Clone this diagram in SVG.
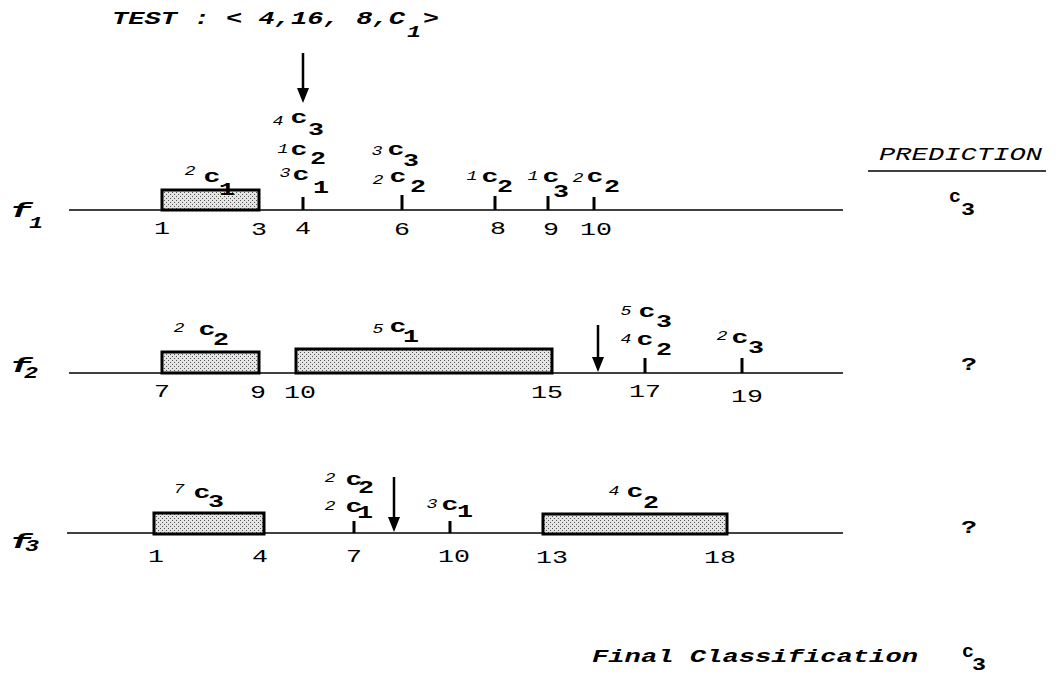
<svg xmlns="http://www.w3.org/2000/svg" width="1059" height="673" viewBox="0 0 1059 673">
<style>
text{font-family:"Liberation Mono","Courier New",monospace;fill:#000}
.num{font-size:18px;text-anchor:middle}
.sm{font-size:12px;font-style:italic;text-anchor:middle}
.c{font-size:19px;font-weight:bold;text-anchor:middle}
.sub{font-size:18px;font-weight:bold;text-anchor:middle}
.bi{font-size:18px;font-weight:bold;font-style:italic}
.fl{font-size:20px;font-weight:bold;font-style:italic;text-anchor:middle}
.fs{font-size:17px;font-weight:bold;font-style:italic;text-anchor:middle}
.axis{stroke:#000;stroke-width:1.5}
.tick{stroke:#000;stroke-width:3}
.box{fill:url(#dots);stroke:#000;stroke-width:3}
.arr{stroke:#000;stroke-width:2.5;marker-end:url(#ah)}
</style>
<defs>
<pattern id="dots" width="4" height="4" patternUnits="userSpaceOnUse">
<rect width="4" height="4" fill="#e4e4e4"/>
<rect x="0" y="0" width="1" height="1" fill="#555"/>
<rect x="2" y="2" width="1" height="1" fill="#555"/>
</pattern>
<marker id="ah" markerUnits="userSpaceOnUse" markerWidth="15" markerHeight="12" refX="3" refY="6" orient="auto" viewBox="0 0 15 12">
<path d="M0,0 L15,6 L0,12 z" fill="#000"/>
</marker>
</defs>

<rect width="1059" height="673" fill="#fff"/>

<g id="header">
<text class="bi" x="112" y="24" textLength="293" lengthAdjust="spacingAndGlyphs">TEST : &lt; 4,16, 8,C</text>
<text class="fs" x="414" y="37" textLength="14" lengthAdjust="spacingAndGlyphs" font-style="normal">1</text>
<text class="bi" x="423" y="24" textLength="16" lengthAdjust="spacingAndGlyphs">&gt;</text>
</g>

<g id="prediction-header">
<text x="879" y="160" font-size="18" font-style="italic" textLength="163" lengthAdjust="spacingAndGlyphs">PREDICTION</text>
<line x1="868" y1="171" x2="1046" y2="171" stroke="#000" stroke-width="1.5"/>
</g>

<g id="connectors">
<line class="arr" x1="303" y1="53" x2="303" y2="91"/>
<line class="arr" x1="598" y1="325" x2="598" y2="360"/>
<line class="arr" x1="394" y1="477" x2="394" y2="520"/>
</g>

<g id="f1">
<text class="fl" x="21" y="217" textLength="22" lengthAdjust="spacingAndGlyphs">f</text>
<text class="fs" x="36" y="228" textLength="14" lengthAdjust="spacingAndGlyphs">1</text>
<line class="axis" x1="69" y1="210" x2="843" y2="210"/>
<rect class="box" x="162" y="190" width="97" height="20"/>
<line class="tick" x1="303" y1="197" x2="303" y2="210"/>
<line class="tick" x1="402" y1="195" x2="402" y2="210"/>
<line class="tick" x1="495" y1="196" x2="495" y2="210"/>
<line class="tick" x1="548" y1="196" x2="548" y2="210"/>
<line class="tick" x1="594" y1="197" x2="594" y2="210"/>
<text class="num" x="162" y="234" textLength="16" lengthAdjust="spacingAndGlyphs">1</text>
<text class="num" x="259" y="235" textLength="16" lengthAdjust="spacingAndGlyphs">3</text>
<text class="num" x="303" y="234" textLength="16" lengthAdjust="spacingAndGlyphs">4</text>
<text class="num" x="402" y="235" textLength="16" lengthAdjust="spacingAndGlyphs">6</text>
<text class="num" x="498" y="234" textLength="16" lengthAdjust="spacingAndGlyphs">8</text>
<text class="num" x="551" y="235" textLength="16" lengthAdjust="spacingAndGlyphs">9</text>
<text class="num" x="596" y="235" textLength="32" lengthAdjust="spacingAndGlyphs">10</text>
<!-- labels -->
<text class="sm" x="190" y="175" textLength="11" lengthAdjust="spacingAndGlyphs">2</text>
<text class="c" x="212" y="182" textLength="17" lengthAdjust="spacingAndGlyphs">c</text>
<text class="sub" x="227" y="195" textLength="16" lengthAdjust="spacingAndGlyphs">1</text>

<text class="sm" x="278" y="125" textLength="11" lengthAdjust="spacingAndGlyphs">4</text>
<text class="c" x="299" y="123" textLength="17" lengthAdjust="spacingAndGlyphs">c</text>
<text class="sub" x="316" y="135" textLength="16" lengthAdjust="spacingAndGlyphs">3</text>
<text class="sm" x="283" y="153" textLength="11" lengthAdjust="spacingAndGlyphs">1</text>
<text class="c" x="299" y="155" textLength="17" lengthAdjust="spacingAndGlyphs">c</text>
<text class="sub" x="318" y="164" textLength="16" lengthAdjust="spacingAndGlyphs">2</text>
<text class="sm" x="285" y="177" textLength="11" lengthAdjust="spacingAndGlyphs">3</text>
<text class="c" x="301" y="180" textLength="17" lengthAdjust="spacingAndGlyphs">c</text>
<text class="sub" x="321" y="193" textLength="16" lengthAdjust="spacingAndGlyphs">1</text>

<text class="sm" x="377" y="155" textLength="11" lengthAdjust="spacingAndGlyphs">3</text>
<text class="c" x="396" y="155" textLength="17" lengthAdjust="spacingAndGlyphs">c</text>
<text class="sub" x="411" y="166" textLength="16" lengthAdjust="spacingAndGlyphs">3</text>
<text class="sm" x="378" y="184" textLength="11" lengthAdjust="spacingAndGlyphs">2</text>
<text class="c" x="398" y="182" textLength="17" lengthAdjust="spacingAndGlyphs">c</text>
<text class="sub" x="418" y="192" textLength="16" lengthAdjust="spacingAndGlyphs">2</text>

<text class="sm" x="472" y="180" textLength="11" lengthAdjust="spacingAndGlyphs">1</text>
<text class="c" x="490" y="182" textLength="17" lengthAdjust="spacingAndGlyphs">c</text>
<text class="sub" x="505" y="192" textLength="16" lengthAdjust="spacingAndGlyphs">2</text>

<text class="sm" x="533" y="180" textLength="11" lengthAdjust="spacingAndGlyphs">1</text>
<text class="c" x="551" y="182" textLength="17" lengthAdjust="spacingAndGlyphs">c</text>
<text class="sub" x="561" y="197" textLength="16" lengthAdjust="spacingAndGlyphs">3</text>

<text class="sm" x="578" y="182" textLength="11" lengthAdjust="spacingAndGlyphs">2</text>
<text class="c" x="595" y="182" textLength="17" lengthAdjust="spacingAndGlyphs">c</text>
<text class="sub" x="612" y="192" textLength="16" lengthAdjust="spacingAndGlyphs">2</text>
</g>

<g id="f1-prediction">
<text class="c" x="955" y="202" font-size="13" textLength="12" lengthAdjust="spacingAndGlyphs">c</text>
<text class="sub" x="968" y="215" textLength="14" lengthAdjust="spacingAndGlyphs">3</text>
</g>

<g id="f2">
<text class="fl" x="21" y="372" textLength="22" lengthAdjust="spacingAndGlyphs">f</text>
<text class="fs" x="31" y="378" textLength="14" lengthAdjust="spacingAndGlyphs">2</text>
<line class="axis" x1="69" y1="373" x2="843" y2="373"/>
<rect class="box" x="162" y="352" width="97" height="21"/>
<rect class="box" x="296" y="349" width="256" height="24"/>
<line class="tick" x1="645" y1="358" x2="645" y2="373"/>
<line class="tick" x1="742" y1="358" x2="742" y2="373"/>
<text class="num" x="162" y="397" textLength="16" lengthAdjust="spacingAndGlyphs">7</text>
<text class="num" x="258" y="398" textLength="16" lengthAdjust="spacingAndGlyphs">9</text>
<text class="num" x="300" y="398" textLength="32" lengthAdjust="spacingAndGlyphs">10</text>
<text class="num" x="547" y="398" textLength="32" lengthAdjust="spacingAndGlyphs">15</text>
<text class="num" x="645" y="397" textLength="32" lengthAdjust="spacingAndGlyphs">17</text>
<text class="num" x="747" y="402" textLength="32" lengthAdjust="spacingAndGlyphs">19</text>

<text class="sm" x="179" y="332" textLength="11" lengthAdjust="spacingAndGlyphs">2</text>
<text class="c" x="207" y="335" textLength="17" lengthAdjust="spacingAndGlyphs">c</text>
<text class="sub" x="221" y="345" textLength="16" lengthAdjust="spacingAndGlyphs">2</text>

<text class="sm" x="378" y="333" textLength="11" lengthAdjust="spacingAndGlyphs">5</text>
<text class="c" x="398" y="332" textLength="17" lengthAdjust="spacingAndGlyphs">c</text>
<text class="sub" x="411" y="342" textLength="16" lengthAdjust="spacingAndGlyphs">1</text>

<text class="sm" x="626" y="315" textLength="11" lengthAdjust="spacingAndGlyphs">5</text>
<text class="c" x="647" y="317" textLength="17" lengthAdjust="spacingAndGlyphs">c</text>
<text class="sub" x="664" y="327" textLength="16" lengthAdjust="spacingAndGlyphs">3</text>
<text class="sm" x="626" y="343" textLength="11" lengthAdjust="spacingAndGlyphs">4</text>
<text class="c" x="645" y="345" textLength="17" lengthAdjust="spacingAndGlyphs">c</text>
<text class="sub" x="664" y="355" textLength="16" lengthAdjust="spacingAndGlyphs">2</text>

<text class="sm" x="722" y="340" textLength="11" lengthAdjust="spacingAndGlyphs">2</text>
<text class="c" x="740" y="343" textLength="17" lengthAdjust="spacingAndGlyphs">c</text>
<text class="sub" x="756" y="353" textLength="16" lengthAdjust="spacingAndGlyphs">3</text>
</g>

<g id="f2-prediction">
<text class="sub" x="969" y="370" font-size="19" textLength="16" lengthAdjust="spacingAndGlyphs">?</text>
</g>

<g id="f3">
<text class="fl" x="21" y="548" textLength="22" lengthAdjust="spacingAndGlyphs">f</text>
<text class="fs" x="32" y="551" textLength="14" lengthAdjust="spacingAndGlyphs">3</text>
<line class="axis" x1="67" y1="533" x2="843" y2="533"/>
<rect class="box" x="154" y="513" width="110" height="21"/>
<rect class="box" x="543" y="514" width="184" height="20"/>
<line class="tick" x1="354" y1="521" x2="354" y2="533"/>
<line class="tick" x1="450" y1="521" x2="450" y2="533"/>
<text class="num" x="156" y="562" textLength="16" lengthAdjust="spacingAndGlyphs">1</text>
<text class="num" x="260" y="562" textLength="16" lengthAdjust="spacingAndGlyphs">4</text>
<text class="num" x="354" y="562" textLength="16" lengthAdjust="spacingAndGlyphs">7</text>
<text class="num" x="454" y="562" textLength="32" lengthAdjust="spacingAndGlyphs">10</text>
<text class="num" x="552" y="563" textLength="32" lengthAdjust="spacingAndGlyphs">13</text>
<text class="num" x="720" y="563" textLength="32" lengthAdjust="spacingAndGlyphs">18</text>

<text class="sm" x="179" y="493" textLength="11" lengthAdjust="spacingAndGlyphs">7</text>
<text class="c" x="202" y="498" textLength="17" lengthAdjust="spacingAndGlyphs">c</text>
<text class="sub" x="216" y="507" textLength="16" lengthAdjust="spacingAndGlyphs">3</text>

<text class="sm" x="330" y="482" textLength="11" lengthAdjust="spacingAndGlyphs">2</text>
<text class="c" x="354" y="485" textLength="17" lengthAdjust="spacingAndGlyphs">c</text>
<text class="sub" x="366" y="493" textLength="16" lengthAdjust="spacingAndGlyphs">2</text>
<text class="sm" x="330" y="510" textLength="11" lengthAdjust="spacingAndGlyphs">2</text>
<text class="c" x="354" y="512" textLength="17" lengthAdjust="spacingAndGlyphs">c</text>
<text class="sub" x="365" y="518" textLength="16" lengthAdjust="spacingAndGlyphs">1</text>

<text class="sm" x="432" y="508" textLength="11" lengthAdjust="spacingAndGlyphs">3</text>
<text class="c" x="450" y="510" textLength="17" lengthAdjust="spacingAndGlyphs">c</text>
<text class="sub" x="465" y="517" textLength="16" lengthAdjust="spacingAndGlyphs">1</text>

<text class="sm" x="614" y="495" textLength="11" lengthAdjust="spacingAndGlyphs">4</text>
<text class="c" x="635" y="497" textLength="17" lengthAdjust="spacingAndGlyphs">c</text>
<text class="sub" x="651" y="508" textLength="16" lengthAdjust="spacingAndGlyphs">2</text>
</g>

<g id="f3-prediction">
<text class="sub" x="969" y="533" font-size="19" textLength="16" lengthAdjust="spacingAndGlyphs">?</text>
</g>

<g id="final">
<text class="bi" x="592" y="662" textLength="326" lengthAdjust="spacingAndGlyphs">Final Classification</text>
<text class="c" x="968" y="657" font-size="13" textLength="12" lengthAdjust="spacingAndGlyphs">c</text>
<text class="sub" x="979" y="670" textLength="14" lengthAdjust="spacingAndGlyphs">3</text>
</g>
</svg>
